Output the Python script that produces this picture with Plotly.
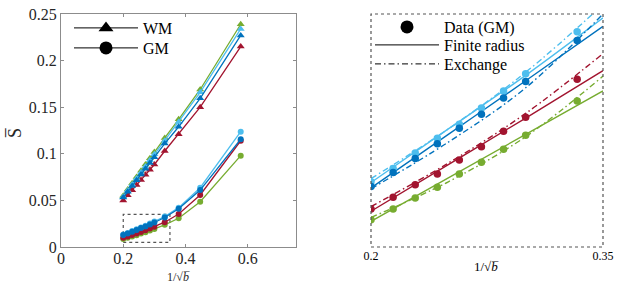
import plotly.graph_objects as go

# ---------------- data ----------------
x_b = [0.2, 0.2143, 0.2286, 0.2429, 0.2571, 0.2714, 0.2857, 0.3, 0.3333, 0.378, 0.4472, 0.5774]

wm_green = [0.055, 0.0617, 0.0684, 0.0751, 0.0818, 0.0885, 0.0952, 0.1019, 0.117, 0.137, 0.169, 0.239]
wm_lightblue = [0.054, 0.0605, 0.067, 0.0735, 0.080, 0.0865, 0.093, 0.0995, 0.114, 0.134, 0.166, 0.234]
wm_blue = [0.053, 0.0592, 0.0654, 0.0716, 0.0778, 0.084, 0.0902, 0.0964, 0.111, 0.129, 0.1595, 0.227]
wm_red = [0.050, 0.0555, 0.061, 0.0665, 0.072, 0.0775, 0.083, 0.0885, 0.103, 0.121, 0.150, 0.215]

gm_lightblue = [0.0134, 0.0151, 0.0171, 0.0190, 0.0208, 0.0229, 0.0251, 0.0273, 0.0327, 0.0422, 0.0636, 0.1237]
gm_blue = [0.0128, 0.0146, 0.0164, 0.0183, 0.0203, 0.0221, 0.0242, 0.0263, 0.0316, 0.0410, 0.0611, 0.1156]
gm_red = [0.0099, 0.0114, 0.0130, 0.0144, 0.0162, 0.0179, 0.0199, 0.0217, 0.0266, 0.0354, 0.0558, 0.1140]
gm_green = [0.0085, 0.0099, 0.0113, 0.0127, 0.0144, 0.0159, 0.0176, 0.0194, 0.0238, 0.0308, 0.0486, 0.0980]

# model curves (zoomed panel)
x_fit = [0.2, 0.25, 0.3, 0.35]
fr_lightblue = [0.0133, 0.0202, 0.0271, 0.0345]
fr_blue = [0.0126, 0.0195, 0.0264, 0.0334]
fr_red = [0.0096, 0.0156, 0.0216, 0.0277]
fr_green = [0.0083, 0.0139, 0.0195, 0.0251]
ex_lightblue = [0.0138, 0.0202, 0.0275, 0.0362]
ex_blue = [0.0125, 0.0185, 0.0255, 0.0350]
ex_red = [0.0102, 0.0158, 0.0222, 0.0299]
ex_green = [0.0088, 0.0134, 0.0192, 0.0270]

zoom_x = [0.2, 0.35]
zoom_y = [0.005, 0.035]

left_xticks = [0, 0.2, 0.4, 0.6]
left_xtick_text = ["0", "0.2", "0.4", "0.6"]
left_yticks = [0, 0.05, 0.1, 0.15, 0.2, 0.25]
left_ytick_text = ["0", "0.05", "0.1", "0.15", "0.2", "0.25"]
right_xticks = [0.2, 0.35]
right_xtick_text = ["0.2", "0.35"]

# ---------------- style ----------------
C_GREEN = "#77AC30"
C_LBLUE = "#4DBEEE"
C_BLUE = "#0072BD"
C_RED = "#A2142F"
FONT = "Liberation Serif, Times New Roman, serif"
AXC = "#8c8c8c"
TXT = "#262626"
DASHDOT = "6px,3px,1.5px,3px"

fig = go.Figure()

series = [
    (C_GREEN, wm_green, gm_green),
    (C_RED, wm_red, gm_red),
    (C_LBLUE, wm_lightblue, gm_lightblue),
    (C_BLUE, wm_blue, gm_blue),
]
for col, wm, gm in series:
    fig.add_trace(go.Scatter(x=x_b, y=wm, mode="lines+markers", showlegend=False,
                             line=dict(color=col, width=1.3),
                             marker=dict(symbol="triangle-up", size=7, color=col),
                             xaxis="x", yaxis="y"))
    fig.add_trace(go.Scatter(x=x_b, y=gm, mode="lines+markers", showlegend=False,
                             line=dict(color=col, width=1.3),
                             marker=dict(symbol="circle", size=6, color=col),
                             xaxis="x", yaxis="y"))

# right panel model curves
fits = [
    (C_GREEN, fr_green, ex_green),
    (C_RED, fr_red, ex_red),
    (C_LBLUE, fr_lightblue, ex_lightblue),
    (C_BLUE, fr_blue, ex_blue),
]
for col, fr, ex in fits:
    fig.add_trace(go.Scatter(x=x_fit, y=fr, mode="lines", showlegend=False,
                             line=dict(color=col, width=1.4, shape="spline"),
                             xaxis="x2", yaxis="y2"))
    fig.add_trace(go.Scatter(x=x_fit, y=ex, mode="lines", showlegend=False,
                             line=dict(color=col, width=1.4, dash=DASHDOT, shape="spline"),
                             xaxis="x2", yaxis="y2"))
for col, wm, gm in series:
    fig.add_trace(go.Scatter(x=x_b, y=gm, mode="markers", showlegend=False,
                             marker=dict(symbol="circle", size=7.5, color=col),
                             xaxis="x2", yaxis="y2"))

# legend entries (one legend per entry for exact spacing)
fig.add_trace(go.Scatter(x=[None], y=[None], mode="lines+markers", name="WM",
                         line=dict(color="black", width=1),
                         marker=dict(symbol="triangle-up", size=13, color="black"),
                         xaxis="x", yaxis="y", legend="legend"))
fig.add_trace(go.Scatter(x=[None], y=[None], mode="lines+markers", name="GM",
                         line=dict(color="black", width=1),
                         marker=dict(symbol="circle", size=13, color="black"),
                         xaxis="x", yaxis="y", legend="legend2"))
fig.add_trace(go.Scatter(x=[None], y=[None], mode="markers", name="Data (GM)",
                         marker=dict(symbol="circle", size=13, color="black"),
                         xaxis="x2", yaxis="y2", legend="legend3"))
fig.add_trace(go.Scatter(x=[None], y=[None], mode="lines", name="Finite radius",
                         line=dict(color="black", width=1),
                         xaxis="x2", yaxis="y2", legend="legend4"))
fig.add_trace(go.Scatter(x=[None], y=[None], mode="lines", name="Exchange",
                         line=dict(color="black", width=1, dash=DASHDOT),
                         xaxis="x2", yaxis="y2", legend="legend5"))

W, H = 617, 290


def px_x(p):
    return p / W


def px_y(p):
    return 1 - p / H


L_dom = [px_x(61), px_x(296)]
R_dom = [px_x(371), px_x(603)]
Y_dom = [px_y(247), px_y(14)]


def leg(xp, yp):
    return dict(x=px_x(xp), y=px_y(yp), xanchor="left", yanchor="middle",
                bgcolor="rgba(0,0,0,0)", borderwidth=0, itemwidth=64,
                font=dict(family=FONT, size=16, color="black"))


axis_common = dict(showgrid=False, zeroline=False, automargin=False)

fig.update_layout(
    width=W, height=H,
    margin=dict(l=0, r=0, t=0, b=0, autoexpand=False),
    paper_bgcolor="white", plot_bgcolor="white",
    font=dict(family=FONT, size=16, color=TXT),
    xaxis=dict(domain=L_dom, range=[0, 0.755], tickvals=left_xticks, ticktext=left_xtick_text,
               ticks="inside", ticklen=3, tickcolor=AXC, showline=True, linecolor=AXC, linewidth=1,
               mirror="ticks", tickfont=dict(family=FONT, size=16, color=TXT),
               ticklabelstandoff=-3, anchor="y", **axis_common),
    yaxis=dict(domain=Y_dom, range=[0, 0.25], tickvals=left_yticks, ticktext=left_ytick_text,
               ticks="inside", ticklen=3, tickcolor=AXC, showline=True, linecolor=AXC, linewidth=1,
               mirror="ticks", tickfont=dict(family=FONT, size=16, color=TXT),
               anchor="x", **axis_common),
    xaxis2=dict(domain=R_dom, range=zoom_x, tickvals=right_xticks, ticktext=right_xtick_text,
                ticks="", showline=False, tickfont=dict(family=FONT, size=12, color="black"),
                anchor="y2", **axis_common),
    yaxis2=dict(domain=Y_dom, range=zoom_y, showticklabels=False, ticks="", showline=False,
                anchor="x2", **axis_common),
    legend=leg(69, 28),
    legend2=leg(69, 48),
    legend3=leg(370, 27),
    legend4=leg(370, 45),
    legend5=leg(370, 64),
    shapes=[
        dict(type="rect", xref="x", yref="y", x0=zoom_x[0], x1=zoom_x[1], y0=zoom_y[0], y1=zoom_y[1],
             line=dict(color="#555555", width=1.2, dash="dot"), layer="below"),
        dict(type="rect", xref="x2 domain", yref="y2 domain", x0=0, x1=1, y0=0, y1=1,
             line=dict(color="#555555", width=1.2, dash="dot"), layer="above"),
    ],
    annotations=[
        dict(text="1/√<i>b\u0305</i>", xref="paper", yref="paper", x=px_x(178), y=px_y(277),
             showarrow=False, font=dict(family=FONT, size=12, color=TXT), xanchor="center", yanchor="middle"),
        dict(text="1/√<i>b\u0305</i>", xref="paper", yref="paper", x=px_x(486), y=px_y(266),
             showarrow=False, font=dict(family=FONT, size=13, color="black"), xanchor="center", yanchor="middle"),
        dict(text="S\u0305", xref="paper", yref="paper", x=px_x(15), y=px_y(133), textangle=-90,
             showarrow=False, font=dict(family=FONT, size=18, color=TXT), xanchor="center", yanchor="middle"),
    ],
)

fig.write_html("out.html", config={"displayModeBar": False},
               post_script="document.body.style.margin='0';")
